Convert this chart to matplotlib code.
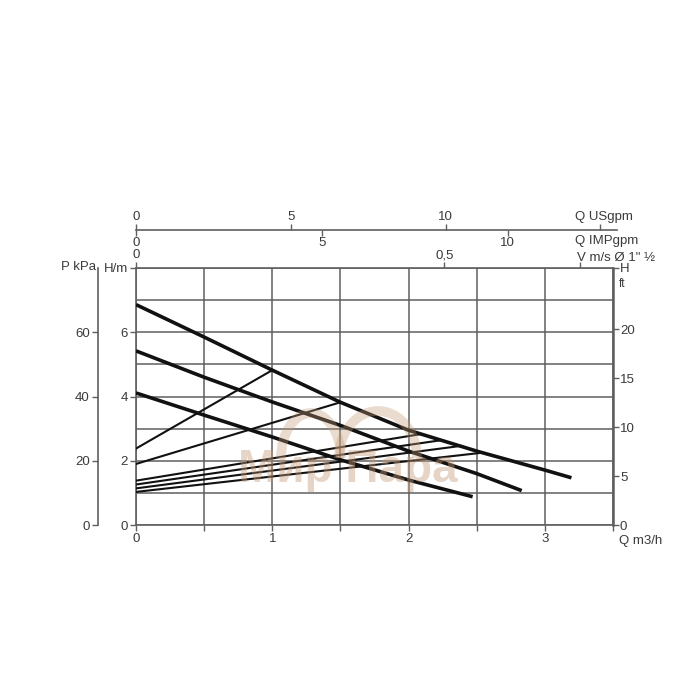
import matplotlib
matplotlib.use('Agg')
import matplotlib.pyplot as plt
import numpy as np
from matplotlib.patches import Arc

plt.rcParams['font.family'] = ['Liberation Sans', 'DejaVu Sans']

# ---- data ----
q_top = [0, 0.5, 1.0, 1.5, 2.0, 2.5, 3.0, 3.195]
h_top = [6.86, 5.85, 4.82, 3.82, 2.95, 2.30, 1.71, 1.47]

q_mid = [0, 0.5, 1.0, 1.5, 2.0, 2.5, 2.83]
h_mid = [5.42, 4.60, 3.83, 3.10, 2.30, 1.60, 1.07]

q_low = [0, 0.5, 1.0, 1.5, 2.0, 2.47]
h_low = [4.11, 3.42, 2.74, 2.03, 1.40, 0.88]

sys_start_h = [2.38, 1.90, 1.38, 1.26, 1.14, 1.03]
sys_end_q = [1.00, 1.50, 2.09, 2.24, 2.38, 2.54]
sys_end_h = [4.82, 3.82, 2.83, 2.64, 2.46, 2.25]

q_tick_labels = ['0', '', '1', '', '2', '', '3', '']
h_tick_labels = ['0', '2', '4', '6', 'H/m']
kpa_ticks = [0, 20, 40, 60]
ft_ticks = [0, 5, 10, 15, 20]
usgpm_ticks = [0, 5, 10, 15]
usgpm_labels = ['0', '5', '10', '']
impgpm_ticks = [0, 5, 10]
v_ticks = [0, 0.5]
v_labels = ['0', '0,5']

Q_MAX = 3.5
H_MAX = 8.0
M3H_TO_USGPM = 4.40287
M3H_TO_IMPGPM = 3.66615
PIPE_D = 0.040
PIPE_A = np.pi * PIPE_D ** 2 / 4

TXT = '#3a3a3a'
GRID = '#5f5f5f'
FS = 9.5

W = H = 700
fig = plt.figure(figsize=(7, 7), dpi=100)
fig.patch.set_facecolor('white')


def fx(px):
    return px / W


def fy(py):
    return 1 - py / H


L, R, B, T = fx(136), fx(613), fy(525), fy(268)
ax = fig.add_axes([L, B, R - L, T - B])
ax.set_xlim(0, Q_MAX)
ax.set_ylim(0, H_MAX)

# grid
ax.set_xticks(np.arange(0, Q_MAX + 0.01, 0.5))
ax.set_xticklabels(q_tick_labels)
ax.set_yticks([0, 2, 4, 6, 8])
ax.set_yticklabels(h_tick_labels)
ax.set_yticks([1, 3, 5, 7], minor=True)
ax.grid(True, which='both', color=GRID, lw=1.1)
ax.tick_params(axis='y', which='minor', length=0)
ax.tick_params(axis='both', which='major', direction='out', length=4, width=1.0,
               color=GRID, labelcolor=TXT, labelsize=FS, pad=2)
for s in ax.spines.values():
    s.set_color(GRID)
    s.set_linewidth(1.2)
ax.spines['right'].set_linewidth(1.8)
ax.set_axisbelow(True)

# pump curves
for q, h in [(q_top, h_top), (q_mid, h_mid), (q_low, h_low)]:
    ax.plot(q, h, color='#111111', lw=2.6, solid_capstyle='butt', zorder=4)

# system curves
for h0, q1, h1 in zip(sys_start_h, sys_end_q, sys_end_h):
    ax.plot([0, q1], [h0, h1], color='#111111', lw=1.5, zorder=3)

# V m/s axis on top spine
secv = ax.secondary_xaxis('top', functions=(lambda q: np.asarray(q) / (3600 * PIPE_A),
                                            lambda v: np.asarray(v) * 3600 * PIPE_A))
secv.set_xticks(v_ticks)
secv.set_xticklabels(v_labels)
secv.set_xticks([0.72], minor=True)
secv.tick_params(which='both', direction='out', length=4, width=1.0, color=GRID,
                 labelcolor=TXT, labelsize=FS, pad=1)
secv.spines['top'].set_visible(False)
fig.text(fx(577), fy(258), 'V m/s Ø 1" ½', fontsize=FS, color=TXT, ha='left', va='center')

# kPa axis
axk = fig.add_axes([L, B, R - L, T - B])
axk.patch.set_visible(False)
axk.set_ylim(0, H_MAX * 10)
axk.set_xticks([])
for k in ['top', 'right', 'bottom']:
    axk.spines[k].set_visible(False)
axk.spines['left'].set_position(('outward', 38 * 72 / 100))
axk.spines['left'].set_color(GRID)
axk.spines['left'].set_linewidth(1.2)
axk.set_yticks(kpa_ticks)
axk.tick_params(direction='out', length=4, width=1.0, color=GRID, labelcolor=TXT,
                labelsize=FS, pad=2)
fig.text(fx(96), fy(267), 'P kPa', fontsize=FS, color=TXT, ha='right', va='center')

# ft axis
axf = ax.twinx()
axf.set_ylim(0, H_MAX / 0.3048)
axf.set_yticks(ft_ticks + [H_MAX / 0.3048])
axf.set_yticklabels([str(t) for t in ft_ticks] + ['H'])
axf.tick_params(direction='out', length=4, width=1.0, color=GRID, labelcolor=TXT,
                labelsize=FS, pad=1)
for s in axf.spines.values():
    s.set_visible(False)
fig.text(fx(619), fy(284), 'ft', fontsize=FS - 1, color=TXT, ha='left', va='center')
fig.text(fx(619), fy(541), 'Q m3/h', fontsize=FS, color=TXT, ha='left', va='center')

# top flow axes (US gpm above the line, IMP gpm below)
ytop = fy(230)
QX = 3.53
axu = fig.add_axes([L, ytop, (R - L) * QX / Q_MAX, 1e-4])
axu.patch.set_visible(False)
axu.set_xlim(0, QX * M3H_TO_USGPM)
axu.set_yticks([])
for k in ['top', 'left', 'right']:
    axu.spines[k].set_visible(False)
axu.spines['bottom'].set_color(GRID)
axu.spines['bottom'].set_linewidth(1.2)
axu.xaxis.tick_top()
axu.set_xticks(usgpm_ticks)
axu.set_xticklabels(usgpm_labels)
axu.tick_params(direction='out', length=4, width=1.0, color=GRID, labelcolor=TXT,
                labelsize=FS, pad=1)
fig.text(fx(575), fy(217), 'Q USgpm', fontsize=FS, color=TXT, ha='left', va='center')

axi = fig.add_axes([L, ytop, (R - L) * QX / Q_MAX, 1e-4])
axi.patch.set_visible(False)
axi.set_xlim(0, QX * M3H_TO_IMPGPM)
axi.set_yticks([])
for s in axi.spines.values():
    s.set_visible(False)
axi.set_xticks(impgpm_ticks)
axi.tick_params(direction='out', length=4, width=1.0, color=GRID, labelcolor=TXT,
                labelsize=FS, pad=1)
fig.text(fx(575), fy(241), 'Q IMPgpm', fontsize=FS, color=TXT, ha='left', va='center')

# watermark
WM = '#c49a78'
fig.text(fx(348), fy(470), 'Мир Пара', fontsize=33, fontweight='bold', color=WM,
         alpha=0.42, ha='center', va='center', zorder=5)
for cx, w, h in [(311, 60, 90), (378, 78, 94)]:
    fig.add_artist(Arc((fx(cx), fy(458)), w / W, h / H, theta1=0, theta2=180,
                       transform=fig.transFigure, color=WM, lw=7, alpha=0.35, zorder=5))

fig.savefig('out.png', dpi=100, facecolor='white')
